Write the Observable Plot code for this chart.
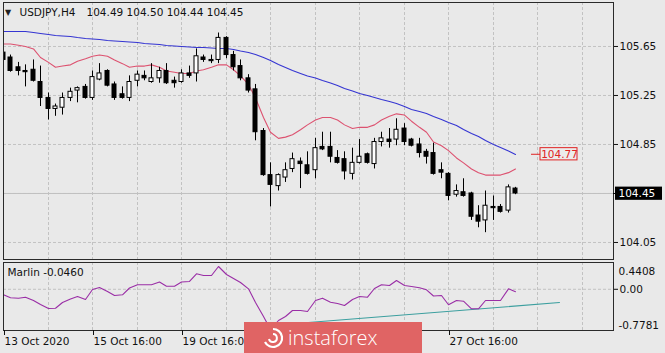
<!DOCTYPE html>
<html><head><meta charset="utf-8">
<script src="https://cdn.jsdelivr.net/npm/d3@7"></script>
<script src="https://cdn.jsdelivr.net/npm/@observablehq/plot@0.6"></script>
<style>
body{margin:0;background:#e9e9e9;}
#wrap{position:relative;width:665px;height:353px;overflow:hidden;background:#e9e9e9;font-family:"DejaVu Sans",sans-serif;}
#main,#ind{position:absolute;left:0;}
#main{top:0}
#ind{top:258px}
#logo{position:absolute;left:244px;top:322px;width:178px;height:31px;background:#e06464;color:#fff;
 font-family:"Open Sans",sans-serif;font-weight:300;font-size:20px;line-height:31px;box-sizing:border-box;padding-left:44px;}
#logo svg{position:absolute;left:18px;top:5px;}
</style>
</head><body>
<div id="wrap"><div id="main"></div><div id="ind"></div>
<div id="logo"><svg width="22" height="22" viewBox="0 0 22 22"><path d="M11 2 A9 9 0 1 1 3 15" fill="none" stroke="#fff" stroke-width="2.2"/><path d="M11 7 A4 4 0 1 1 7 12" fill="none" stroke="#fff" stroke-width="2"/></svg>instaforex</div>
</div>
<script>
// ---- data (H4 bars, index 0..69) ----
const opens = [105.60,105.56,105.48,105.45,105.46,105.36,105.23,105.14,105.15,105.23,
105.29,105.32,105.23,105.38,105.45,105.34,105.26,105.23,105.37,105.41,
105.36,105.39,105.45,105.37,105.36,105.43,105.43,105.56,105.54,105.54,
105.72,105.58,105.49,105.39,105.30,104.96,104.60,104.51,104.58,104.65,
104.71,104.68,104.64,104.83,104.83,104.74,104.73,104.61,104.70,104.77,
104.69,104.87,104.89,104.89,104.98,104.89,104.85,104.79,104.78,104.64,
104.61,104.44,104.46,104.45,104.27,104.23,104.34,104.34,104.31,104.49];
const highs = [105.63,105.58,105.52,105.50,105.54,105.49,105.27,105.18,105.27,105.31,
105.32,105.34,105.45,105.51,105.46,105.36,105.32,105.41,105.45,105.45,
105.51,105.48,105.51,105.40,105.46,105.49,105.63,105.58,105.58,105.76,
105.73,105.61,105.54,105.42,105.34,104.98,104.70,104.61,104.70,104.78,
104.74,104.79,104.90,104.95,104.95,104.80,104.79,104.82,104.89,104.78,
104.90,104.95,104.98,105.06,105.02,104.90,104.90,104.81,104.86,104.70,
104.62,104.52,104.57,104.46,104.35,104.47,104.43,104.36,104.52,104.50];
const lows = [105.52,105.44,105.41,105.32,105.36,105.16,105.05,105.08,105.09,105.20,
105.19,105.22,105.21,105.37,105.32,105.21,105.22,105.20,105.32,105.37,
105.35,105.35,105.34,105.31,105.35,105.39,105.36,105.52,105.51,105.51,
105.55,105.45,105.37,105.27,104.88,104.59,104.34,104.47,104.54,104.62,
104.49,104.60,104.57,104.80,104.70,104.69,104.56,104.56,104.69,104.69,
104.65,104.83,104.82,104.84,104.84,104.83,104.74,104.69,104.60,104.57,
104.39,104.42,104.42,104.23,104.17,104.13,104.23,104.29,104.29,104.44];
const closes = [105.54,105.45,105.45,105.44,105.37,105.23,105.14,105.16,105.23,105.28,
105.31,105.23,105.40,105.43,105.33,105.23,105.23,105.36,105.42,105.39,
105.39,105.45,105.35,105.35,105.43,105.41,105.57,105.54,105.53,105.72,
105.58,105.48,105.39,105.29,104.95,104.60,104.52,104.60,104.64,104.73,
104.69,104.61,104.82,104.81,104.75,104.70,104.63,104.70,104.75,104.70,
104.87,104.90,104.87,104.97,104.87,104.84,104.78,104.75,104.61,104.62,
104.43,104.47,104.43,104.26,104.22,104.35,104.33,104.30,104.50,104.45];
const maRed = [105.67,105.67,105.66,105.65,105.63,105.56,105.52,105.48,105.49,105.50,
105.53,105.55,105.57,105.58,105.57,105.54,105.51,105.48,105.49,105.49,
105.50,105.48,105.45,105.44,105.43,105.43,105.45,105.46,105.48,105.50,
105.50,105.46,105.41,105.34,105.23,105.07,104.95,104.90,104.91,104.93,
104.97,105.01,105.05,105.07,105.07,105.05,105.01,104.98,104.99,104.99,
105.01,105.05,105.08,105.10,105.09,105.04,104.99,104.95,104.87,104.84,
104.80,104.74,104.70,104.65,104.62,104.60,104.60,104.60,104.62,104.65];
const maBlue = [105.772,105.772,105.772,105.772,105.764,105.756,105.748,105.740,105.736,105.732,
105.723,105.715,105.711,105.707,105.699,105.695,105.691,105.687,105.683,105.674,
105.670,105.666,105.658,105.654,105.650,105.646,105.642,105.642,105.638,105.634,
105.634,105.625,105.613,105.601,105.585,105.560,105.536,105.503,105.479,105.454,
105.430,105.409,105.393,105.372,105.352,105.332,105.307,105.287,105.266,105.250,
105.234,105.217,105.201,105.185,105.160,105.136,105.119,105.103,105.079,105.054,
105.030,105.005,104.972,104.940,104.915,104.883,104.850,104.826,104.797,104.768];
const marlin = [-0.107,-0.165,-0.172,-0.153,-0.217,-0.294,-0.372,-0.366,-0.256,-0.188,
-0.140,-0.198,-0.004,0.035,-0.043,-0.120,-0.107,0.025,0.087,0.087,
0.087,0.141,0.060,0.060,0.141,0.151,0.300,0.267,0.267,0.4408,
0.286,0.209,0.131,0.009,-0.256,-0.527,-0.7781,-0.604,-0.527,-0.410,
-0.410,-0.430,-0.217,-0.172,-0.250,-0.275,-0.314,-0.198,-0.140,-0.153,
0.015,0.087,0.073,0.170,0.073,0.054,0.029,-0.010,-0.130,-0.120,
-0.300,-0.217,-0.231,-0.378,-0.378,-0.217,-0.217,-0.217,0.009,-0.046];
const trendBars = [36, 74.9];
const trendVals = [-0.70, -0.256];
const priceTicks = [105.65, 105.25, 104.85, 104.45, 104.05];
// date labels visible in the reference (the ones under the logo are hidden)
const dateTickBars = [0, 12, 24, 60];
const dateLabels = ["13 Oct 2020", "15 Oct 16:00", "19 Oct 16:00", "27 Oct 16:00"];
const gridBars = [6,12,18,24,30,36,42,48,54,60,66,72,78];
const symbol = "USDJPY,H4";
const indicatorName = "Marlin";

// ---- build ----
const candles = opens.map((o, i) => ({i, o, h: highs[i], l: lows[i], c: closes[i], red: maRed[i], blue: maBlue[i], m: marlin[i]}));
const ups = candles.filter(d => d.c >= d.o);
const downs = candles.filter(d => d.c < d.o);
const last = candles[candles.length - 1];
const lastIdx = last.i;
const xDomain = [0, 82.2];
const maLabel = +last.blue.toFixed(2);
const font = {fontFamily: "DejaVu Sans, sans-serif", fontSize: "10.5px", color: "#111", background: "transparent", overflow: "visible"};
const grid = {stroke: "#c2c2c2", strokeDasharray: "3,2"};

const main = Plot.plot({
  width: 665, height: 260,
  marginLeft: 3, marginRight: 52, marginTop: 2, marginBottom: 1,
  style: font,
  x: {domain: xDomain, round: true, axis: null},
  y: {domain: [103.911, 106.009], axis: null},
  marks: [
    Plot.ruleY(priceTicks, grid),
    Plot.ruleX(gridBars, grid),
    Plot.ruleY([last.c], {stroke: "#c0c0c0"}),
    Plot.line(candles, {x: "i", y: "blue", stroke: "#3535d2", strokeWidth: 1.1}),
    Plot.line(candles, {x: "i", y: "red", stroke: "#dd5270", strokeWidth: 1.1}),
    Plot.ruleX(candles, {x: "i", y1: "l", y2: "h", stroke: "#000", clip: "frame"}),
    Plot.rect(ups, {x1: "i", x2: "i", y1: "o", y2: "c", insetLeft: -2, insetRight: -2, fill: "#fff", stroke: "#000", clip: "frame"}),
    Plot.rect(downs, {x1: "i", x2: "i", y1: "o", y2: "c", insetLeft: -2, insetRight: -2, fill: "#000", stroke: "#000", clip: "frame"}),
    Plot.frame({stroke: "#2a2a2a"}),
    Plot.axisY(priceTicks.filter(v => v !== last.c), {anchor: "right", tickSize: 4, tickPadding: 2, tickFormat: d => d.toFixed(2), fill: "#111"}),
    Plot.rect([last.c], {x1: () => 82.45, x2: () => 88.75, y1: d => d - 0.056, y2: d => d + 0.052, fill: "#000", clip: false}),
    Plot.text([last.c], {x: () => 82.2, y: d => d, text: d => d.toFixed(2), textAnchor: "start", dx: 5, fill: "#fff"}),
    Plot.ruleY([last.c], {x1: () => 82.2, x2: () => 82.7, stroke: "#000"}),
    // MA price label
    Plot.ruleY([maLabel], {x1: () => lastIdx + 2.2, x2: () => lastIdx + 3.4, stroke: "#e02424"}),
    Plot.rect([maLabel], {x1: () => lastIdx + 3.4, x2: () => lastIdx + 8.4, y1: d => d - 0.05, y2: d => d + 0.05, fill: "#ececec", stroke: "#e02424"}),
    Plot.text([maLabel], {x: () => lastIdx + 5.9, y: d => d, text: d => d.toFixed(2), fill: "#e02424"}),
    // header
    Plot.text(["\u25BC"], {frameAnchor: "top-left", dx: 4.5, dy: 10, fontSize: 8, textAnchor: "middle", lineAnchor: "middle", fill: "#222"}),
    Plot.text([symbol], {frameAnchor: "top-left", dx: 16, dy: 10.5, textAnchor: "start", lineAnchor: "middle", fill: "#111"}),
    Plot.text([[last.o, last.h, last.l, last.c].map(v => v.toFixed(2)).join(" ")], {frameAnchor: "top-left", dx: 83, dy: 10.5, textAnchor: "start", lineAnchor: "middle", fill: "#111"})
  ]
});
document.getElementById("main").appendChild(main);

const mMax = d3.max(marlin), mMin = d3.min(marlin);
const ind = Plot.plot({
  width: 665, height: 95,
  marginLeft: 3, marginRight: 52, marginTop: 4, marginBottom: 23,
  style: font,
  x: {domain: xDomain, round: true, axis: null},
  y: {domain: [-0.7974, 0.5182], axis: null},
  marks: [
    Plot.ruleY([0], grid),
    Plot.ruleX(gridBars, grid),
    Plot.line(trendBars.map((b, k) => ({b, v: trendVals[k]})), {x: "b", y: "v", stroke: "#3c9f9f", strokeWidth: 1.1}),
    Plot.line(candles, {x: "i", y: "m", stroke: "#9a2ea6", strokeWidth: 1.1}),
    Plot.frame({stroke: "#2a2a2a"}),
    Plot.axisX(dateTickBars, {anchor: "bottom", tickSize: 5, tickPadding: 2, textAnchor: "start", dx: 1, tickFormat: b => dateLabels[dateTickBars.indexOf(b)], label: null, fill: "#111"}),
    Plot.axisY([0], {anchor: "right", tickSize: 4, tickPadding: 2, tickFormat: () => "0.00", label: null, fill: "#111"}),
    Plot.text([mMax.toFixed(4)], {frameAnchor: "top-right", dx: 5, dy: 9, textAnchor: "start", lineAnchor: "middle", fill: "#111"}),
    Plot.text([mMin.toFixed(4)], {frameAnchor: "bottom-right", dx: 5, dy: -5, textAnchor: "start", lineAnchor: "middle", fill: "#111"}),
    Plot.text([`${indicatorName} ${last.m.toFixed(4)}`], {frameAnchor: "top-left", dx: 4, dy: 10.5, textAnchor: "start", lineAnchor: "middle", fill: "#111"})
  ]
});
document.getElementById("ind").appendChild(ind);
</script>
</body></html>
